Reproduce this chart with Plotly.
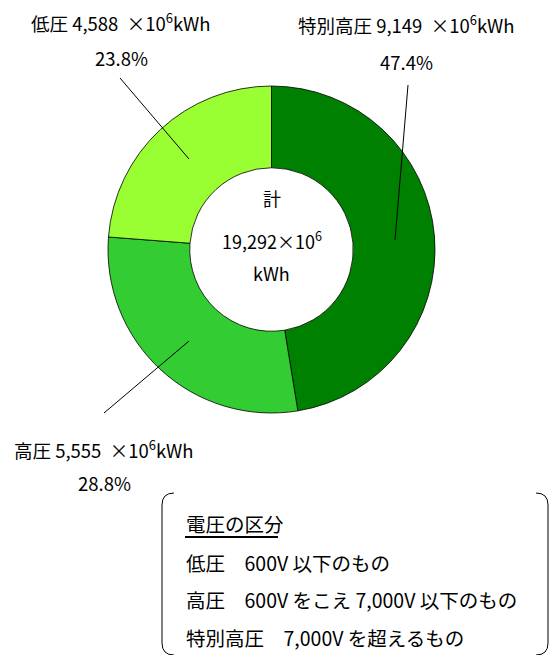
import plotly.graph_objects as go

# ---- data ----
categories = ["特別高圧", "高圧", "低圧"]
values = [9149, 5555, 4588]
colors = ["#008000", "#33CC33", "#99FF33"]
legend_title = "電圧の区分"
legend_lines = ["低圧　600V 以下のもの",
                "高圧　600V をこえ 7,000V 以下のもの",
                "特別高圧　7,000V を超えるもの"]

W, H = 554, 655
FONT = "Noto Sans CJK JP"
total = sum(values)


def px(x):
    return x / W


def py(y):
    return 1 - y / H


cx, cy, R = 271.5, 249.5, 163.5

fig = go.Figure(go.Pie(
    labels=categories, values=values, sort=False, direction="clockwise",
    rotation=0, hole=0.5, textinfo="none", hoverinfo="label+value+percent",
    marker=dict(colors=colors, line=dict(color="#000000", width=0.8)),
    domain=dict(x=[px(cx - R), px(cx + R)], y=[py(cy + R), py(cy - R)]),
    showlegend=False,
))

annos = []


def txt(x, y, s, size=18.5, anchor="center"):
    annos.append(dict(x=px(x), y=py(y), xref="paper", yref="paper", text=s,
                      showarrow=False, xanchor=anchor, yanchor="middle",
                      font=dict(family=FONT, size=size, color="#000000")))


label_pos = {"特別高圧": (406, 24, 62), "高圧": (104, 449, 483), "低圧": (121, 22, 58)}
for c, v in zip(categories, values):
    x, y1, y2 = label_pos[c]
    txt(x, y1, f"{c} {v:,}  ×10<sup>6</sup>kWh")
    txt(x, y2, f"{v / total * 100:.1f}%", size=18.5)

# center text
txt(cx, 198, "計", size=18)
txt(cx, 240, f"{total:,}×10<sup>6</sup>", size=18)
txt(cx, 273, "kWh", size=18)

# legend box text
txt(184, 523, legend_title, anchor="left", size=19.5)
for i, s in enumerate(legend_lines):
    txt(184, 562 + i * 37.5, s, anchor="left", size=19.5)

shapes = []


def line(x0, y0, x1, y1, w=1):
    shapes.append(dict(type="line", xref="paper", yref="paper",
                       x0=px(x0), y0=py(y0), x1=px(x1), y1=py(y1),
                       line=dict(color="#000000", width=w)))


# leader lines
line(395, 240, 408, 85)
line(189, 159, 120, 78)
line(189, 341, 104, 413)
# underline of legend title
line(185, 537, 278, 537, 2)


def bracket(x, side):
    # x: vertical line x; side: +1 for left bracket, -1 for right
    r = 12
    top, bot = 493, 655
    xi = x + side * r
    d = (f"M {px(xi)},{py(top)} Q {px(x)},{py(top)} {px(x)},{py(top + r)} "
         f"L {px(x)},{py(bot - r)} Q {px(x)},{py(bot)} {px(xi)},{py(bot)}")
    shapes.append(dict(type="path", xref="paper", yref="paper", path=d,
                       line=dict(color="#000000", width=1)))


bracket(162, 1)
bracket(548, -1)

fig.update_layout(
    width=W, height=H, margin=dict(l=0, r=0, t=0, b=0),
    paper_bgcolor="#FFFFFF", plot_bgcolor="#FFFFFF",
    annotations=annos, shapes=shapes,
    font=dict(family=FONT),
)

fig.write_html("out.html")
